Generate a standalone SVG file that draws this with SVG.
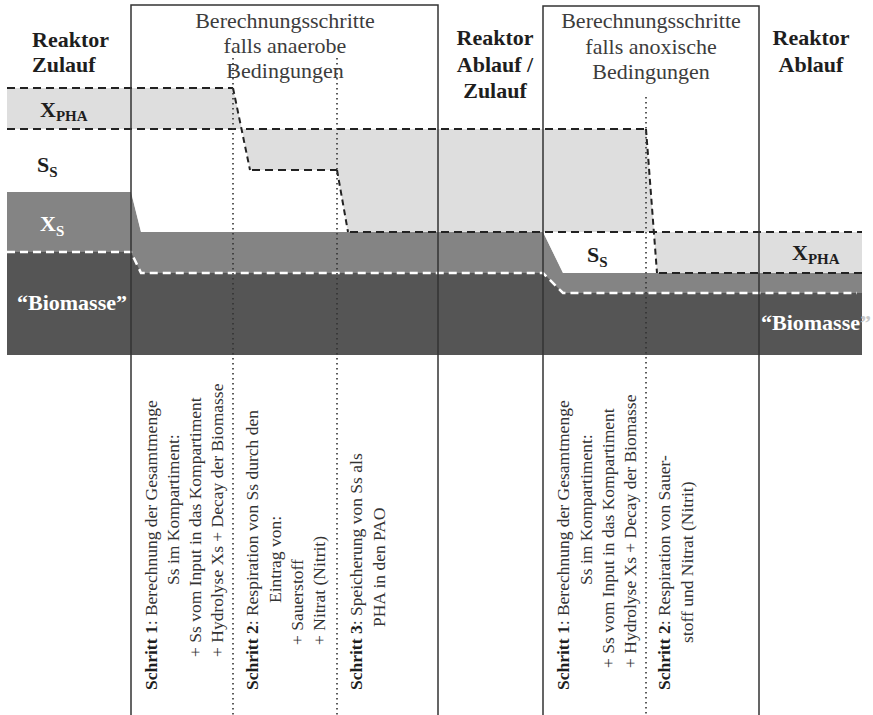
<svg xmlns="http://www.w3.org/2000/svg" width="873" height="715" viewBox="0 0 873 715">
  <style>
    .hdr { font-family: "Liberation Serif", "Times New Roman", serif; font-size: 22px; fill: #3c3c3c; text-anchor: middle; }
    .col { font-family: "Liberation Serif", "Times New Roman", serif; font-size: 22px; font-weight: bold; fill: #1e1e1e; }
    .mid { text-anchor: middle; }
    .lbl { font-family: "Liberation Serif", "Times New Roman", serif; font-size: 22px; font-weight: bold; fill: #1e1e1e; }
    .lbl.w { fill: #ffffff; }
    .sub { font-size: 15px; }
    .step { font-family: "Liberation Serif", "Times New Roman", serif; font-size: 17.5px; fill: #333333; }
    .step .b { font-weight: bold; fill: #1e1e1e; }
    .dashK { fill: none; stroke: #222222; stroke-width: 2; stroke-dasharray: 8 5; }
    .dashS { fill: none; stroke: #222222; stroke-width: 2; stroke-dasharray: 6 4; }
    .dashW { fill: none; stroke: #ffffff; stroke-width: 2.5; stroke-dasharray: 8 5; }
    .frame { fill: none; stroke: #333333; stroke-width: 1.5; }
    .dot { fill: none; stroke: #333333; stroke-width: 1.6; stroke-dasharray: 1.4 3.6; }
  </style>

  <rect width="873" height="715" fill="#ffffff"/>

  <!-- fraction bands: X_PHA (light), X_S (medium), biomass (dark), S_S (white) -->
  <g id="bands">
    <polygon fill="#dedede" points="7,88 233,88 242,129 646,129 654,232 862,232 862,300 7,300"/>
    <polygon fill="#848484" points="7,192 131,192 141,232 543,232 563,273 862,273 862,355 7,355"/>
    <polygon fill="#555555" points="7,252 131,252 141,273 543,273 563,293 862,293 862,355 7,355"/>
    <polygon fill="#ffffff" points="7,129 242,129 250,170 337,170 348,232 141,232 131,192 7,192"/>
    <polygon fill="#ffffff" points="543,232 654,232 657,273 563,273"/>
  </g>

  <!-- band boundaries -->
  <g id="connectors">
    <path class="dashK" d="M7,88 H233"/>
    <path class="dashS" d="M233,88 L250,170"/>
    <path class="dashK" d="M7,129 H238"/>
    <path class="dashK" d="M246,129 H646"/>
    <path class="dashK" d="M252,170 H337"/>
    <path class="dashS" d="M337,170 L348,232"/>
    <path class="dashK" d="M350,232 H862"/>
    <path class="dashS" d="M646,129 L657,273"/>
    <path class="dashK" d="M659,273 H862"/>
    <path class="dashW" d="M7,252 H131 L141,273 H543 L563,293 H857"/>
  </g>

  <!-- calculation boxes and step separators -->
  <g id="box-anaerob">
    <path class="frame" d="M131,715 V5 H438 V715"/>
    <path class="dot" d="M233,58 V715"/>
    <path class="dot" d="M337,58 V715"/>
    <text class="hdr" x="285" y="28">Berechnungsschritte</text>
    <text class="hdr" x="285" y="53">falls anaerobe</text>
    <text class="hdr" x="285" y="78">Bedingungen</text>
  </g>
  <g id="box-anox">
    <path class="frame" d="M543,715 V6 H759 V715"/>
    <path class="dot" d="M646,97 V715"/>
    <text class="hdr" x="651" y="28">Berechnungsschritte</text>
    <text class="hdr" x="651" y="54">falls anoxische</text>
    <text class="hdr" x="651" y="79">Bedingungen</text>
  </g>

  <!-- column headings -->
  <g id="reaktor-zulauf">
    <text class="col" x="32" y="47">Reaktor</text>
    <text class="col" x="32" y="72">Zulauf</text>
  </g>
  <g id="reaktor-ablauf-zulauf">
    <text class="col mid" x="495" y="45">Reaktor</text>
    <text class="col mid" x="495" y="72">Ablauf /</text>
    <text class="col mid" x="495" y="98">Zulauf</text>
  </g>
  <g id="reaktor-ablauf">
    <text class="col mid" x="811" y="45">Reaktor</text>
    <text class="col mid" x="811" y="72">Ablauf</text>
  </g>

  <!-- band labels -->
  <g id="labels">
    <text class="lbl" x="40" y="117">X<tspan class="sub" dy="4">PHA</tspan></text>
    <text class="lbl" x="37" y="172">S<tspan class="sub" dy="5">S</tspan></text>
    <text class="lbl w" x="40" y="231">X<tspan class="sub" dy="5">S</tspan></text>
    <text class="lbl w" x="17" y="310">“Biomasse”</text>
    <text class="lbl" x="587" y="262">S<tspan class="sub" dy="5">S</tspan></text>
    <text class="lbl" x="792" y="260">X<tspan class="sub" dy="4">PHA</tspan></text>
    <text class="lbl w" x="761" y="330">“Biomasse<tspan fill="#c8c8c8">”</tspan></text>
  </g>

  <!-- step descriptions, anaerobic -->
  <g id="steps-anaerob">
    <text class="step" transform="translate(157,690) rotate(-90)"><tspan class="b">Schritt 1</tspan>: Berechnung der Gesamtmenge</text>
    <text class="step" transform="translate(179,585) rotate(-90)">Ss im Kompartiment:</text>
    <text class="step" transform="translate(201,657) rotate(-90)">+ Ss vom Input in das Kompartiment</text>
    <text class="step" transform="translate(223,657) rotate(-90)">+ Hydrolyse Xs + Decay der Biomasse</text>

    <text class="step" transform="translate(258,690) rotate(-90)"><tspan class="b">Schritt 2</tspan>: Respiration von Ss durch den</text>
    <text class="step" transform="translate(281,603) rotate(-90)">Eintrag von:</text>
    <text class="step" transform="translate(303,645) rotate(-90)">+ Sauerstoff</text>
    <text class="step" transform="translate(325,645) rotate(-90)">+ Nitrat (Nitrit)</text>

    <text class="step" transform="translate(362,690) rotate(-90)"><tspan class="b">Schritt 3</tspan>: Speicherung von Ss als</text>
    <text class="step" transform="translate(385,627) rotate(-90)">PHA in den PAO</text>
  </g>

  <!-- step descriptions, anoxic -->
  <g id="steps-anox">
    <text class="step" transform="translate(569,690) rotate(-90)"><tspan class="b">Schritt 1</tspan>: Berechnung der Gesamtmenge</text>
    <text class="step" transform="translate(592,585) rotate(-90)">Ss im Kompartiment:</text>
    <text class="step" transform="translate(614,668) rotate(-90)">+ Ss vom Input in das Kompartiment</text>
    <text class="step" transform="translate(636,668) rotate(-90)">+ Hydrolyse Xs + Decay der Biomasse</text>

    <text class="step" transform="translate(670,690) rotate(-90)"><tspan class="b">Schritt 2</tspan>: Respiration von Sauer-</text>
    <text class="step" transform="translate(693,643) rotate(-90)">stoff und Nitrat (Nitrit)</text>
  </g>
</svg>
